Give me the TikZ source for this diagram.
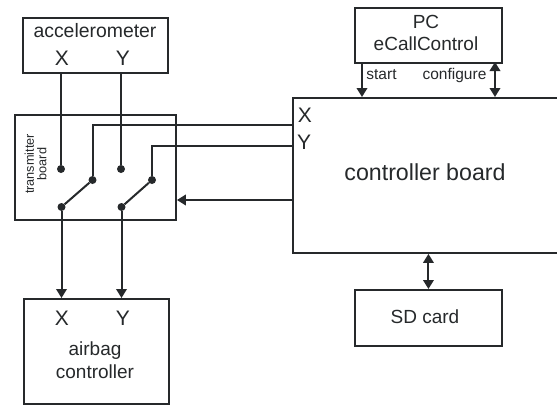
\documentclass[tikz,border=0pt]{standalone}
\usepackage{fontspec}
\setmainfont{Liberation Sans}
\usetikzlibrary{arrows.meta,positioning}
\definecolor{ink}{HTML}{26292B}
\tikzset{
  flowarr/.style={-{Triangle[length=9pt,width=10.5pt]},line width=2pt,color=ink},
  bothways/.style={{Triangle[length=9pt,width=10.5pt]}-{Triangle[length=9pt,width=10.5pt]},line width=2pt,color=ink},
  wire/.style={line width=2pt,color=ink},
  boxcard/.style={draw=ink,fill=white,line width=1.9pt,inner sep=0pt,anchor=north west},
  pindot/.style={circle,fill=ink,inner sep=0pt,minimum size=8pt},
  biglabel/.style={text=ink,inner sep=0pt,align=center,font=\fontsize{21}{24}\selectfont},
  boxlabel/.style={text=ink,inner sep=0pt,align=center,font=\fontsize{19}{22.5}\selectfont},
  smalllabel/.style={text=ink,inner sep=0pt,align=center,font=\fontsize{15.5}{17}\selectfont},
  tinylabel/.style={text=ink,inner sep=0pt,align=center,font=\fontsize{12.7}{12.5}\selectfont}
}
\begin{document}
\begin{tikzpicture}[x=1pt,y=-1pt]
  \useasboundingbox (0,0) rectangle (557,405);
  % boxes
  \node[boxcard,line width=2.4pt,minimum width=145pt,minimum height=55pt] (accel) at (22,16.5) {};
  \node[boxcard,minimum width=161pt,minimum height=105pt] (trans) at (14,114) {};
  \node[boxcard,minimum width=145pt,minimum height=105pt] (airbag) at (23,298) {};
  \node[boxcard,minimum width=147pt,minimum height=55pt] (pc) at (354,7) {};
  \node[boxcard,minimum width=272pt,minimum height=155pt] (ctrl) at (292,97) {};
  \node[boxcard,minimum width=147pt,minimum height=56pt] (sd) at (354,289) {};
  % box texts
  \node[boxlabel,font=\fontsize{19.4}{22}\selectfont] (acceltxt) at (95,31) {accelerometer};
  \node[biglabel] (accx) at (62,58) {X};
  \node[biglabel] (accy) at (123,58) {Y};
  \node[biglabel] (airx) at (62,318) {X};
  \node[biglabel] (airy) at (123,318) {Y};
  \node[boxlabel] (airtxt) at (95,360) {airbag\\controller};
  \node[boxlabel] (pctxt) at (426,33) {PC\\eCallControl};
  \node[biglabel] (ctrlx) at (305,115) {X};
  \node[biglabel] (ctrly) at (304,142) {Y};
  \node[biglabel,font=\fontsize{23.2}{28}\selectfont] (ctrltxt) at (425,172) {controller board};
  \node[boxlabel] (sdtxt) at (425,317) {SD card};
  \node[tinylabel,rotate=90] (transtxt) at (35.5,164) {transmitter\\board};
  \node[smalllabel] (starttxt) at (381.5,75) {start};
  \node[smalllabel] (conftxt) at (454.5,75) {configure};
  % switch contacts
  \node[pindot] (inx) at (61,169) {};
  \node[pindot] (iny) at (121,169) {};
  \node[pindot] (ctlx) at (92.5,180) {};
  \node[pindot] (ctly) at (152,180) {};
  \node[pindot] (outx) at (61.5,207) {};
  \node[pindot] (outy) at (121.5,207) {};
  % wires
  \draw[wire] (accel.south -| inx) -- (inx);
  \draw[wire] (accel.south -| iny) -- (iny);
  \draw[wire] (outx) -- (ctlx);
  \draw[wire] (outy) -- (ctly);
  \coordinate (ctrlxpin) at (292,125);
  \coordinate (ctrlypin) at (292,146);
  \draw[wire] (ctlx) |- (ctrlxpin);
  \draw[wire] (ctly) |- (ctrlypin);
  \coordinate (ctrlback) at (292,200);
  \draw[flowarr] (ctrlback) -- (ctrlback -| trans.east);
  \draw[flowarr] (outx) -- (outx |- airbag.north);
  \draw[flowarr] (outy) -- (outy |- airbag.north);
  \coordinate (startpin) at (362,62);
  \coordinate (confpin) at (495,62);
  \draw[flowarr] (startpin) -- (startpin |- ctrl.north);
  \draw[bothways] (confpin) -- (confpin |- ctrl.north);
  \draw[bothways] (ctrl.south -| sd) -- (sd);
\end{tikzpicture}
\end{document}
